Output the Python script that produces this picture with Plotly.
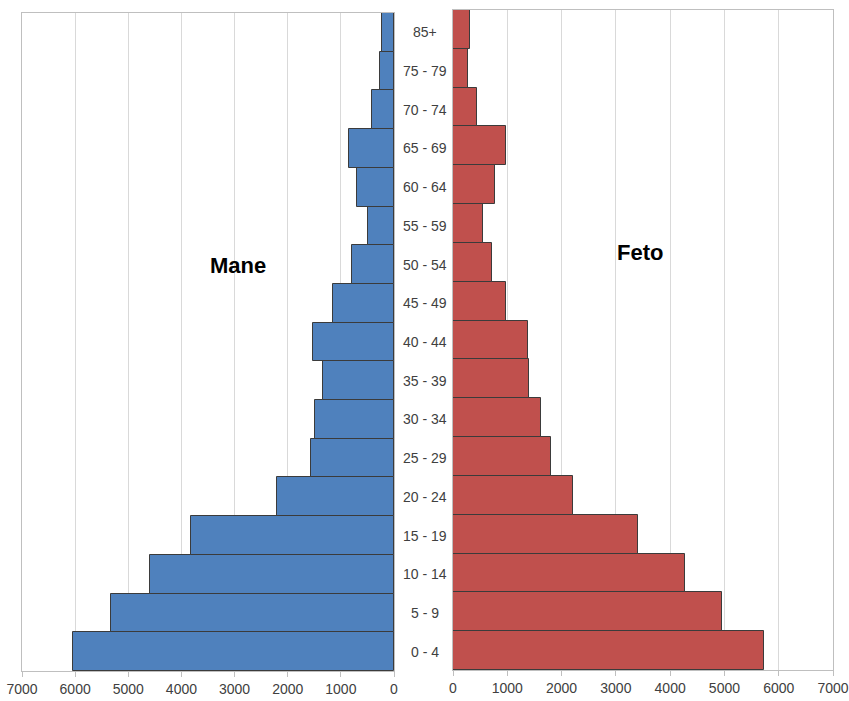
import plotly.graph_objects as go

age_groups = ["0 - 4", "5 - 9", "10 - 14", "15 - 19", "20 - 24", "25 - 29", "30 - 34",
              "35 - 39", "40 - 44", "45 - 49", "50 - 54", "55 - 59", "60 - 64",
              "65 - 69", "70 - 74", "75 - 79", "85+"]
mane = [6040, 5320, 4600, 3820, 2200, 1560, 1480, 1340, 1520, 1140, 790, 480, 690, 850, 410, 260, 230]
feto = [5730, 4960, 4270, 3410, 2210, 1800, 1630, 1400, 1390, 970, 710, 545, 770, 975, 440, 270, 310]
x_ticks = [0, 1000, 2000, 3000, 4000, 5000, 6000, 7000]

W, H = 849, 701
FONT = "Liberation Sans Narrow, Arial Narrow, Liberation Sans, sans-serif"

fig = go.Figure()
fig.add_trace(go.Bar(y=age_groups, x=mane, orientation="h", name="Mane",
                     marker=dict(color="#4F81BD", line=dict(color="#3b3b3b", width=1)),
                     xaxis="x", yaxis="y", showlegend=False))
fig.add_trace(go.Bar(y=age_groups, x=feto, orientation="h", name="Feto",
                     marker=dict(color="#C0504D", line=dict(color="#3b3b3b", width=1)),
                     xaxis="x2", yaxis="y2", showlegend=False))

axis_common = dict(tickvals=x_ticks, ticktext=[str(v) for v in x_ticks],
                   showgrid=True, gridcolor="#d9d9d9", gridwidth=1,
                   showline=True, linecolor="#bfbfbf", linewidth=1, mirror=True,
                   ticks="outside", ticklen=5, tickcolor="#bfbfbf",
                   tickfont=dict(family=FONT, size=14, color="#404040"),
                   zeroline=False, fixedrange=True, automargin=False)

fig.update_layout(
    width=W, height=H,
    margin=dict(l=0, r=0, t=0, b=0, autoexpand=False),
    paper_bgcolor="white", plot_bgcolor="white",
    barmode="overlay", bargap=0,
    xaxis=dict(domain=[22 / W, 394 / W], range=[7000, 0], anchor="y", **axis_common),
    xaxis2=dict(domain=[453 / W, 833 / W], range=[0, 7000], anchor="y2", **axis_common),
    yaxis=dict(domain=[(H - 671) / H, (H - 13) / H], anchor="x", showticklabels=False,
               showline=True, linecolor="#bfbfbf", mirror=True, ticks="", automargin=False,
               categoryorder="array", categoryarray=age_groups, fixedrange=True),
    yaxis2=dict(domain=[(H - 670) / H, (H - 10) / H], anchor="x2", showticklabels=False,
                showline=True, linecolor="#bfbfbf", mirror=True, ticks="", automargin=False,
                categoryorder="array", categoryarray=age_groups, fixedrange=True),
)

for g in age_groups:
    fig.add_annotation(x=425 / W, xref="paper", y=g, yref="y", text=g, showarrow=False,
                       font=dict(family=FONT, size=14, color="#404040"),
                       xanchor="center", yanchor="middle")

fig.add_annotation(x=208 / W, xref="paper", y=(H - 265) / H, yref="paper", text="<b>Mane</b>",
                   showarrow=False, font=dict(family=FONT, size=22, color="black"))
fig.add_annotation(x=665 / W, xref="paper", y=(H - 252) / H, yref="paper", text="<b>Feto</b>",
                   showarrow=False, font=dict(family=FONT, size=22, color="black"))

fig.write_html("out.html", config={"displayModeBar": False},
               post_script="document.body.style.margin='0';document.body.style.overflow='hidden';")
